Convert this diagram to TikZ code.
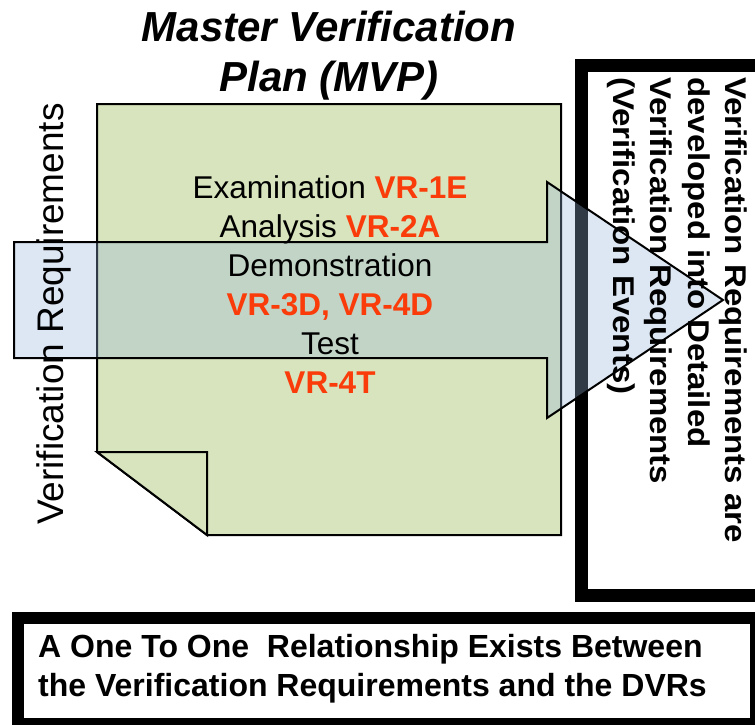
\documentclass[tikz,border=0pt]{standalone}
\usepackage{fontspec}
\setmainfont{Liberation Sans}
\definecolor{docgreen}{RGB}{215,228,189}
\definecolor{vrred}{RGB}{250,60,10}
\definecolor{arrowblue}{RGB}{150,180,220}
\tikzset{
  docline/.style={draw=black, line width=2pt, line join=miter},
  thickbox/.style={draw=black, line width=13pt},
  bigarrow/.style={draw=black, line width=2pt, fill=arrowblue, fill opacity=0.32, line join=miter},
  greentext/.style={anchor=base, inner sep=0pt, font=\fontsize{31.5}{38}\selectfont},
  righttext/.style={anchor=base west, rotate=-90, inner sep=0pt, font=\fontsize{30}{37}\selectfont\bfseries},
  bottomtext/.style={anchor=base west, inner sep=0pt, font=\fontsize{32}{39}\selectfont\bfseries},
  titletext/.style={anchor=base, inner sep=0pt, font=\fontsize{42}{50}\selectfont\bfseries\itshape},
}
\newcommand{\vrr}[1]{\textcolor{vrred}{\bfseries #1}}
\newcommand{\stretchtxt}[1]{\scalebox{1.1}[1]{#1}}
\begin{document}
\begin{tikzpicture}[x=1pt,y=-1pt]
\useasboundingbox (0,0) rectangle (755,725);
% right black box
\draw[thickbox] (581.5,65.5) rectangle (775,595.5);
% bottom box
\draw[line width=12pt] (18,618) rectangle (756,724);
% document with folded corner
\draw[docline, fill=docgreen] (97,104) -- (561,104) -- (561,535) -- (207,535) -- (97,452) -- cycle;
\draw[docline, fill=docgreen] (97,452) -- (207,452) -- (207,535) -- cycle;
% big arrow
\draw[bigarrow] (14,242) -- (547,242) -- (547,182) -- (723,300) -- (547,418) -- (547,358) -- (14,358) -- cycle;
% title
\node[titletext] (title1) at (329,42) {Master Verification};
\node[titletext] (title2) at (329,92) {Plan (MVP)};
% left vertical text
\node[anchor=base, rotate=90, inner sep=0pt, font=\fontsize{37}{40}\selectfont] (vr) at (63,314) {Verification Requirements};
% document text
\node[greentext] (l1) at (330,198) {Examination \vrr{VR-1E}};
\node[greentext] (l2) at (330,237) {Analysis \vrr{VR-2A}};
\node[greentext] (l3) at (330,276) {Demonstration};
\node[greentext] (l4) at (330,315) {\vrr{VR-3D, VR-4D}};
\node[greentext] (l5) at (330,354) {Test};
\node[greentext] (l6) at (330,393) {\vrr{VR-4T}};
% right text
\node[righttext] (r1) at (725,77) {\stretchtxt{Verification Requirements are}};
\node[righttext] (r2) at (688,77) {\stretchtxt{developed into Detailed}};
\node[righttext] (r3) at (650,77) {\stretchtxt{Verification Requirements}};
\node[righttext] (r4) at (613,77) {\stretchtxt{(Verification Events)}};
% bottom text
\node[bottomtext] (b1) at (38,657) {A One To One~ Relationship Exists Between};
\node[bottomtext] (b2) at (38,696) {the Verification Requirements and the DVRs};
\end{tikzpicture}
\end{document}
